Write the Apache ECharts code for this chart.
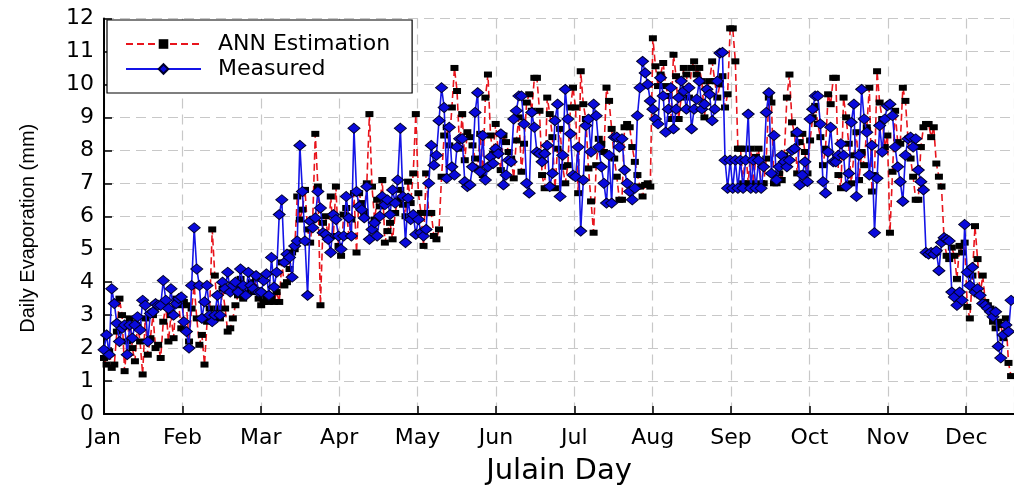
<!DOCTYPE html>
<html>
<head>
<meta charset="utf-8">
<script src="https://cdn.jsdelivr.net/npm/echarts@6/dist/echarts.min.js"></script>
<style>
html,body{margin:0;padding:0;background:#fff;}
#chart{width:1014px;height:487px;}
</style>
</head>
<body>
<div id="chart"></div>
<script>
const monthLabels = ['Jan','Feb','Mar','Apr','May','Jun','Jul','Aug','Sep','Oct','Nov','Dec'];
const yTicks = [0,1,2,3,4,5,6,7,8,9,10,11,12];

// Measured daily evaporation (mm), month by month
const measJan = [1.95,2.4,1.8,3.8,3.35,2.75,2.2,2.6,2.7,1.8,2.7,2.3,2.7,2.95,2.55,3.45,3.3,2.2,3.05,3.1,3.35,3.3,3.3,4.05,3.45,3.2,3.8,3.0,3.35,3.5,3.55];
const measFeb = [2.8,2.5,2.0,3.9,5.65,4.4,3.9,2.9,3.4,3.9,3.0,2.8,3.0,3.6,3.0,4.0,3.8,4.3,3.7,3.9,4.0,3.7,4.4,3.9,3.6,4.3,3.9,3.8,4.2,3.7];
const measMar = [3.7,4.05,4.25,3.6,4.75,3.85,4.3,6.05,6.5,4.6,4.85,4.75,4.15,5.1,5.25,8.15,6.75,5.25,3.6,5.85,5.65,5.95,6.75,6.25,5.5,5.45,5.3,4.9,6.05,5.9];
const measApr = [5.4,5.0,5.4,6.6,5.95,5.4,8.67,6.75,6.3,6.2,5.95,6.9,5.3,5.6,5.8,5.4,6.0,6.6,6.35,6.5,6.05,6.8,6.4,7.1,8.67,6.6,5.2,6.55,5.9,6.05,5.45];
const measMay = [5.9,5.5,5.4,5.6,7.0,8.15,7.55,7.85,8.9,9.9,9.3,7.15,8.7,7.5,7.25,8.1,8.35,8.35,7.05,6.9,6.95,7.5,9.15,9.75,7.35,8.45,7.1,7.5,7.8,7.6];
const measJun = [8.05,7.9,8.5,6.95,7.25,7.7,7.65,8.95,9.2,9.65,9.65,8.8,7.0,6.7,9.15,8.7,7.95,7.9,7.65,7.9,8.15,6.9,7.3,8.9,9.4,6.6,7.85,9.85,8.95,8.5,7.25];
const measJul = [7.2,8.1,5.55,7.1,8.75,8.95,7.95,9.4,9.05,8.1,7.5,7.0,6.4,7.85,6.4,8.4,8.4,8.1,8.35,7.4,7.0,6.75,6.5,6.85,9.05,9.9,10.7,10.35,10.0,9.5];
const measAug = [9.25,8.95,8.8,10.2,9.65,8.55,9.25,9.9,8.65,9.25,9.6,10.1,9.8,9.25,9.9,8.65,9.25,9.55,10.1,9.25,9.4,9.85,9.7,8.9,9.25,10.1,10.95,10.97,7.7,6.85,7.7];
const measSep = [6.85,7.7,6.85,7.7,6.85,7.7,9.1,6.85,7.7,6.85,7.7,6.85,7.5,9.15,9.75,7.3,8.45,7.1,7.5,7.85,7.65,7.5,7.7,8.0,8.05,8.55,6.95,7.25,7.65,7.05];
const measOct = [8.95,9.25,9.65,9.65,8.8,7.05,6.7,7.95,8.7,7.65,7.65,7.85,8.2,7.85,6.9,7.3,8.85,9.4,6.6,7.85,9.85,8.95,8.55,7.25,8.15,5.5,7.15,8.75,7.95,8.95,9.35];
const measNov = [9.4,9.05,8.1,7.5,7.05,6.45,7.85,8.35,8.4,8.1,8.35,7.4,7.05,6.8,4.9,4.85,4.9,4.85,4.95,4.35,5.2,5.35,5.3,5.25,3.7,3.55,3.3,3.7,3.45,5.75];
const measDec = [4.3,3.9,4.45,3.7,3.8,3.6,3.35,3.3,3.2,3.1,2.95,3.1,2.05,1.7,2.4,2.7,2.5,3.45];

// ANN estimation (mm), month by month
const annJan = [1.7,1.5,1.9,1.4,1.5,2.5,3.5,3.0,1.3,2.2,2.9,2.0,1.6,2.7,2.2,1.2,2.9,1.8,2.3,3.0,2.0,2.1,1.7,2.8,3.3,2.2,3.0,2.3,3.5,3.3,2.6];
const annFeb = [3.4,3.3,2.2,3.2,3.9,2.9,2.1,2.4,1.5,2.8,3.2,5.6,4.2,3.2,2.9,3.8,3.2,2.5,2.6,2.9,3.3,3.6,4.1,3.5,3.7,3.9,4.0,3.7,4.1,3.5];
const annMar = [3.3,3.4,3.5,3.4,3.5,3.4,3.7,3.4,4.6,3.9,4.0,4.4,4.9,5.0,6.6,5.9,6.2,6.8,5.6,5.2,5.9,8.5,6.9,3.3,5.8,6.0,5.3,6.6,5.4,6.9];
const annApr = [5.1,4.8,6.05,6.25,5.4,5.9,6.7,4.9,6.7,6.4,6.1,7.0,9.1,6.9,5.9,6.5,6.3,7.1,5.2,5.55,5.8,5.3,6.1,6.5,6.8,6.35,6.0,7.05,6.4,7.3,9.1];
const annMay = [6.7,6.1,5.1,7.3,6.1,6.1,5.4,5.3,5.6,7.2,8.45,8.7,8.15,9.3,10.5,9.8,8.05,9.1,7.7,8.55,8.4,8.15,7.75,7.45,8.5,7.25,9.6,10.3,8.45,7.9];
const annJun = [8.8,7.95,7.4,8.45,8.25,7.95,7.75,7.15,8.3,9.0,7.35,8.2,9.45,9.7,9.2,10.2,10.2,9.2,7.25,6.85,9.6,9.1,8.4,6.85,8.05,8.65,7.5,7.0,7.55,9.3,9.9];
const annJul = [9.3,6.7,10.4,9.4,8.95,7.45,6.45,5.5,7.55,8.35,8.2,7.95,9.9,9.5,8.65,7.75,7.2,6.5,6.5,8.7,8.8,8.7,8.1,7.65,7.25,6.9,6.6,6.95,7.0,6.9];
const annAug = [11.4,10.55,9.95,10.3,10.65,9.95,9.65,8.95,10.9,10.25,8.95,9.6,10.5,10.3,9.6,10.5,10.7,10.3,10.5,10.1,9.0,9.85,10.1,10.7,10.1,9.6,10.0,10.25,9.3,9.7,11.7];
const annSep = [11.7,10.7,8.05,8.05,7.0,8.05,7.0,8.05,7.0,7.8,8.05,7.0,7.0,7.75,9.6,9.45,7.0,7.0,7.3,7.1,7.85,9.6,10.3,8.85,8.5,7.3,8.25,8.5,7.95,7.3];
const annOct = [8.3,9.0,9.35,8.8,8.4,7.55,8.05,9.7,9.4,10.2,10.2,7.25,6.85,9.6,9.0,8.2,7.0,7.85,8.55,7.1,7.95,7.55,8.7,9.9,6.75,7.25,10.4,9.45,8.95,8.1,8.45];
const annNov = [5.5,7.35,9.2,8.25,8.2,9.9,9.5,8.35,7.75,7.2,6.5,6.5,8.1,8.7,8.8,8.8,8.4,8.7,7.6,7.2,6.9,5.3,4.8,4.7,5.05,4.8,4.1,5.1,4.9,5.2];
const annDec = [3.25,2.9,4.2,5.7,4.7,3.6,4.2,3.4,3.3,3.2,2.8,2.6,2.8,2.7,2.3,2.9,1.55,1.15];

const measured = [].concat(measJan,measFeb,measMar,measApr,measMay,measJun,measJul,measAug,measSep,measOct,measNov,measDec);
const ann = [].concat(annJan,annFeb,annMar,annApr,annMay,annJun,annJul,annAug,annSep,annOct,annNov,annDec);

// x in month units: day index * 12 / 365
const toPairs = arr => arr.map((v, i) => [i * 12 / 365, v]);

const FONT = '"DejaVu Sans", Arial, sans-serif';
const FONT_V = '"Liberation Sans", Arial, sans-serif';
const chart = echarts.init(document.getElementById('chart'), null, {renderer: 'canvas'});
chart.setOption({
  animation: false,
  backgroundColor: '#fff',
  grid: {left: 104, top: 18.5, right: 0, bottom: 73, containLabel: false, outerBoundsMode: 'none'},
  legend: {
    orient: 'vertical',
    left: 107, top: 20,
    padding: [13, 22, 13, 18],
    itemGap: 3,
    itemWidth: 75, itemHeight: 12,
    backgroundColor: '#fff',
    borderColor: '#000', borderWidth: 1.2, borderRadius: 0,
    textStyle: {fontFamily: FONT, fontSize: 22, color: '#000', lineHeight: 22, padding: [0,0,0,12]},
    data: ['ANN Estimation', 'Measured']
  },
  xAxis: {
    type: 'value', min: 0, max: 11.61, interval: 1,
    name: 'Julain Day', nameLocation: 'middle', nameGap: 43,
    nameTextStyle: {fontFamily: FONT, fontSize: 29, color: '#000'},
    axisLine: {show: true, lineStyle: {color: '#000', width: 2}},
    axisTick: {show: true, inside: true, length: 8, lineStyle: {color: '#000', width: 1.5}},
    axisLabel: {fontFamily: FONT, fontSize: 22, color: '#000', margin: 13, showMaxLabel: false,
      formatter: v => monthLabels[Math.round(v)] || ''},
    splitLine: {show: true, lineStyle: {color: '#c8c8c8', width: 1.2, type: [10, 6]}}
  },
  yAxis: {
    type: 'value', min: yTicks[0], max: yTicks[yTicks.length - 1], interval: 1,
    name: 'Daily Evaporation (mm)', nameLocation: 'middle', nameGap: 66, nameRotate: 90,
    nameTextStyle: {fontFamily: FONT_V, fontSize: 20, color: '#000', padding: [0, 24, 0, 0]},
    axisLine: {show: true, lineStyle: {color: '#000', width: 2}},
    axisTick: {show: true, inside: true, length: 8, lineStyle: {color: '#000', width: 1.5}},
    axisLabel: {fontFamily: FONT, fontSize: 22, color: '#000', margin: 10},
    splitLine: {show: true, lineStyle: {color: '#c8c8c8', width: 1.2, type: [10, 6]}}
  },
  series: [
    {
      name: 'ANN Estimation', type: 'line', data: toPairs(ann),
      showSymbol: true, showAllSymbol: true, sampling: null,
      symbol: 'rect', symbolSize: [8, 6],
      itemStyle: {color: '#000', borderWidth: 0},
      lineStyle: {color: '#e8141c', width: 1.6, type: [7, 4]},
      emphasis: {disabled: true}, z: 2
    },
    {
      name: 'Measured', type: 'line', data: toPairs(measured),
      showSymbol: true, showAllSymbol: true, sampling: null,
      symbol: 'diamond', symbolSize: [12, 10],
      itemStyle: {color: '#0a0adc', borderColor: '#00002a', borderWidth: 1},
      lineStyle: {color: '#1414e6', width: 1.6},
      emphasis: {disabled: true}, z: 3
    }
  ]
});
</script>
</body>
</html>
